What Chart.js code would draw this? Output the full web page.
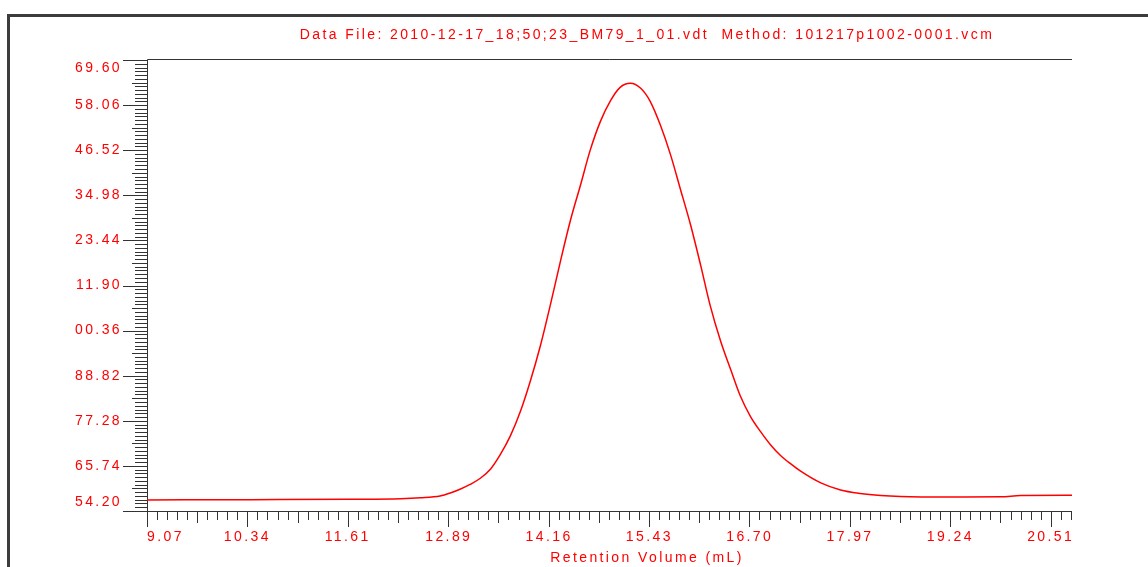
<!DOCTYPE html>
<html>
<head>
<meta charset="utf-8">
<script src="https://cdn.jsdelivr.net/npm/chart.js@4.4.1/dist/chart.umd.min.js"></script>
<style>
  body { margin: 0; background: #fff; }
  canvas { display: block; }
</style>
</head>
<body>
<canvas id="gpcChart" width="1148" height="567"></canvas>
<script>
// curva de eluição: volume de retenção (mL) x sinal do detector
const retentionVol = [9.07, 10.38, 11.64, 12.28, 12.53, 12.78, 12.91, 13.04, 13.16, 13.29, 13.42, 13.54, 13.67, 13.80,
  13.92, 14.05, 14.18, 14.30, 14.43, 14.56, 14.68, 14.81, 14.94, 15.06, 15.19, 15.32, 15.44, 15.57, 15.70, 15.82,
  15.95, 16.08, 16.20, 16.33, 16.46, 16.58, 16.71, 16.84, 16.96, 17.09, 17.22, 17.34, 17.60, 17.85, 18.10, 18.36,
  18.61, 19.24, 19.88, 20.13, 20.79];
const signal = [57.02, 57.10, 57.20, 57.35, 57.58, 58.04, 58.81, 59.84, 60.99, 62.58, 64.96, 68.55, 73.42, 79.83,
  87.26, 96.49, 107.25, 117.76, 128.53, 137.75, 146.47, 153.90, 159.28, 162.61, 163.64, 162.36, 159.03, 152.88, 145.19, 136.73,
  127.50, 116.99, 106.74, 97.77, 90.33, 83.67, 78.37, 74.45, 71.24, 68.42, 66.24, 64.45, 61.38, 59.58, 58.69, 58.17,
  57.92, 57.79, 57.84, 58.17, 58.22];

// ticks principais e rótulos (o software corta o "1" das centenas)
const xTicks = [9.07, 10.34, 11.61, 12.89, 14.16, 15.43, 16.70, 17.97, 19.24, 20.51];
const yTicks = [54.20, 65.74, 77.28, 88.82, 100.36, 111.90, 123.44, 134.98, 146.52, 158.06, 169.60];
const yTickLabels = ['54.20', '65.74', '77.28', '88.82', '00.36', '11.90', '23.44', '34.98', '46.52', '58.06', '69.60'];
const xMin = 9.07, xMax = 20.78;

const titleText = 'Data File: 2010-12-17_18;50;23_BM79_1_01.vdt  Method: 101217p1002-0001.vcm';
const xAxisTitle = 'Retention Volume (mL)';

const RED = '#ff0000';
const AXIS = '#333333';
const FONT = { family: '"Liberation Sans", Arial, sans-serif', size: 14 };

// eixos, ticks menores, moldura e textos
const axisPainter = {
  id: 'axisPainter',
  beforeDraw(chart) {
    chart.ctx.letterSpacing = '2.4px';
  },
  beforeDatasetsDraw(chart) {
    const { ctx, chartArea: a, scales: { x, y } } = chart;
    ctx.save();
    ctx.strokeStyle = '#3c3c3c';
    ctx.lineWidth = 3;
    ctx.beginPath();
    ctx.moveTo(8.5, chart.height);
    ctx.lineTo(8.5, 15.5);
    ctx.lineTo(chart.width, 15.5);
    ctx.stroke();

    ctx.strokeStyle = AXIS;
    ctx.lineWidth = 1;
    ctx.beginPath();
    ctx.moveTo(a.right, a.top - 0.5);
    ctx.lineTo(a.left + 0.5, a.top - 0.5);
    ctx.lineTo(a.left + 0.5, a.bottom + 0.5);
    ctx.lineTo(a.right, a.bottom + 0.5);

    const ySub = 12;
    const yStep = (yTicks[1] - yTicks[0]) / ySub;
    for (let i = 0; i <= (yTicks.length - 1) * ySub; i++) {
      const py = Math.round(y.getPixelForValue(yTicks[0] + i * yStep)) + 0.5;
      const len = i % ySub === 0 ? 24 : (i % (ySub / 2) === 0 ? 15 : 12);
      ctx.moveTo(a.left, py);
      ctx.lineTo(a.left - len, py);
    }

    const xSub = 10;
    const xStep = (xTicks[xTicks.length - 1] - xTicks[0]) / (xTicks.length - 1) / xSub;
    for (let i = 0; xTicks[0] + i * xStep <= xMax + 1e-6; i++) {
      const px = Math.round(x.getPixelForValue(xTicks[0] + i * xStep)) + 0.5;
      const len = i % xSub === 0 ? 16 : (i % (xSub / 2) === 0 ? 12 : 9);
      ctx.moveTo(px, a.bottom);
      ctx.lineTo(px, a.bottom + len);
    }
    ctx.stroke();
    ctx.restore();
  },
  afterDraw(chart) {
    const { ctx, chartArea: a } = chart;
    ctx.save();
    ctx.fillStyle = RED;
    ctx.font = FONT.size + 'px ' + FONT.family;
    ctx.textAlign = 'center';
    ctx.textBaseline = 'middle';
    ctx.fillText(titleText, a.left + 500, 35);
    ctx.fillText(xAxisTitle, a.left + 500, 558);
    ctx.restore();
  }
};

new Chart(document.getElementById('gpcChart'), {
  type: 'line',
  data: {
    datasets: [{
      data: retentionVol.map((v, i) => ({ x: v, y: signal[i] })),
      borderColor: RED,
      borderWidth: 1.5,
      pointRadius: 0,
      cubicInterpolationMode: 'monotone',
      fill: false
    }]
  },
  options: {
    responsive: false,
    animation: false,
    layout: { padding: { top: 60, right: 76, left: 0, bottom: 0 } },
    plugins: { legend: { display: false }, tooltip: { enabled: false } },
    scales: {
      x: {
        type: 'linear', min: xMin, max: xMax,
        grid: { display: false, drawTicks: false },
        border: { display: false },
        afterBuildTicks: s => { s.ticks = [...xTicks, xMax].map(v => ({ value: v })); },
        afterFit: s => { s.height = 56; },
        ticks: {
          color: RED, font: FONT, padding: 18, align: 'inner',
          maxRotation: 0, autoSkip: false,
          callback: (v, i) => i < xTicks.length ? xTicks[i].toFixed(2) : ''
        }
      },
      y: {
        type: 'linear', min: yTicks[0], max: yTicks[yTicks.length - 1],
        grid: { display: false, drawTicks: false },
        border: { display: false },
        afterBuildTicks: s => { s.ticks = yTicks.map(v => ({ value: v })); },
        afterFit: s => { s.width = 147; },
        ticks: {
          color: RED, font: FONT, padding: 25, autoSkip: false,
          callback: (v, i) => {
            if (i === 0) return [yTickLabels[i], ''];
            if (i === yTicks.length - 1) return ['', yTickLabels[i]];
            return yTickLabels[i];
          }
        }
      }
    }
  },
  plugins: [axisPainter]
});
</script>
</body>
</html>
